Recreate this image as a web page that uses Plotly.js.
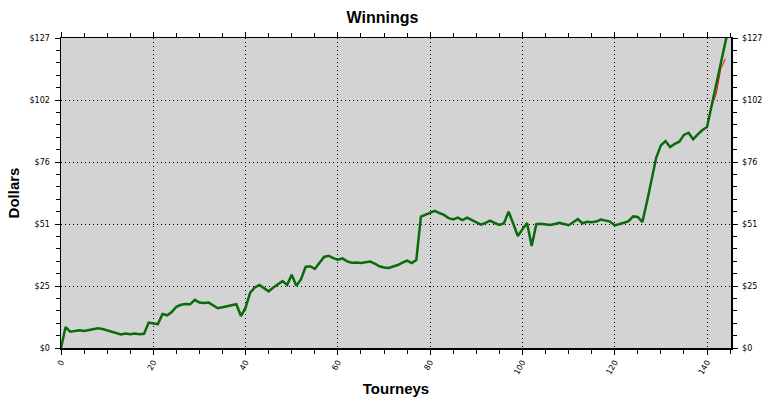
<!DOCTYPE html>
<html>
<head>
<meta charset="utf-8">
<script src="https://cdn.plot.ly/plotly-3.0.1.min.js"></script>
<style>html,body{margin:0;padding:0;background:#fff;}#chart{width:765px;height:403px;}</style>
</head>
<body>
<div id="chart"></div>
<script>
// Tourney numbers (vertices of the winnings line)
const tourneys = [0,1,2,3,4,5,6,7,8,9,10,11,12,13,14,15,16,17,18,19,20,21,22,23,24,25,26,27,28,29,30,31,32,33,34,35,36,37,38,39,40,41,42,43,44,45,46,47,48,49,50,51,52,53,54,55,56,57,58,59,60,61,62,63,64,65,66,67,68,69,70,71,72,73,74,75,76,77,78,79,80,81,82,83,84,85,86,87,88,89,90,91,92,93,94,95,96,97,98,99,100,101,102,103,104,105,106,107,108,109,110,111,112,113,114,115,116,117,118,119,120,121,122,123,124,125,126,127,128,129,130,131,132,133,134,135,136,137,138,139,140,141,142,143,144,145];
// Cumulative winnings (green line)
const winnings = [0,8.6,6.7,7.0,7.3,7.0,7.3,7.8,8.1,7.8,7.2,6.6,5.8,5.5,5.9,5.6,5.9,5.6,5.8,10.4,10.0,9.8,13.9,13.4,14.7,16.9,17.7,18.0,17.9,19.7,18.6,18.4,18.6,17.5,16.3,16.7,17.1,17.5,17.9,13.1,16.5,22.7,24.8,25.8,24.5,23.2,24.8,26.2,27.4,25.8,30.0,25.5,28.1,33.2,33.5,32.4,35.0,37.3,37.8,36.8,36.2,36.7,35.5,34.9,35.0,34.8,35.1,35.4,34.6,33.5,33.0,32.8,33.4,34.0,35.0,35.8,34.8,36.0,53.8,54.6,55.5,56.2,55.3,54.5,53.2,52.7,53.4,52.4,53.4,52.5,51.7,50.5,51.3,52.2,51.2,50.4,51.1,55.8,51.0,45.9,48.6,51.2,41.8,50.7,50.9,50.7,50.4,50.8,51.3,50.8,50.3,51.5,52.8,51.1,51.7,51.5,51.8,52.6,52.3,51.8,50.2,50.6,51.3,52.0,53.9,53.7,51.6,60.0,69.0,78.0,83.0,84.8,82.3,83.6,84.5,87.3,88.2,85.5,87.5,89.3,90.5,99.5,108.5,117.5,125.5,133.0];
// Red line (diverges at the end)
const redTourneys = [138,139,140,141,142,143,144];
const redValues = [87.5,89.3,90.5,99.0,104.0,114.5,118.5];
// Axis ticks
const yTicks = [0,25.4,50.8,76.2,101.6,127];
const yTickText = ['$0','$25','$51','$76','$102','$127'];

const tickFont = {family:'DejaVu Sans, sans-serif', size:8, color:'#000'};
const titleFont = {family:'Liberation Sans, Arial, sans-serif', size:15, color:'#000', weight:'bold'};
const gridDash = '1px,3px';

const traces = [
  {x: redTourneys, y: redValues, type:'scatter', mode:'lines', line:{color:'#ff0000', width:1}, hoverinfo:'skip', showlegend:false},
  {x: tourneys, y: winnings, type:'scatter', mode:'lines', line:{color:'#0a6b0a', width:2.5}, showlegend:false},
  {x:[0], y:[0], yaxis:'y2', type:'scatter', mode:'markers', marker:{opacity:0}, hoverinfo:'skip', showlegend:false}
];

const yCommon = {
  range:[0,127], tickmode:'array', tickvals:yTicks, ticktext:yTickText,
  ticks:'outside', ticklen:5, tickwidth:1, tickcolor:'#000',
  showline:true, linecolor:'#000', linewidth:1.5, zeroline:false,
  tickfont: tickFont, fixedrange:true,
  minor:{tickmode:'linear', tick0:0, dtick:5.08, ticks:'outside', ticklen:4, tickcolor:'#000', showgrid:false}
};

const layout = {
  width:765, height:403,
  margin:{l:61, r:34, t:38, b:55},
  paper_bgcolor:'#ffffff', plot_bgcolor:'#d3d3d3',
  title:{text:'Winnings', x:0.5, xref:'container', y:0.957, yref:'container', yanchor:'middle',
         font:{family:'Liberation Sans, Arial, sans-serif', size:16, color:'#000', weight:'bold'}},
  xaxis:{
    range:[0,145.2], tickmode:'linear', tick0:0, dtick:20, tickangle:-60,
    ticks:'outside', ticklen:5, tickwidth:1, tickcolor:'#000',
    showline:true, linecolor:'#000', linewidth:1.5, mirror:'ticks', zeroline:false,
    showgrid:true, gridcolor:'#000', gridwidth:1, griddash:gridDash,
    tickfont: tickFont,
    minor:{tickmode:'linear', tick0:0, dtick:5, ticks:'outside', ticklen:4, tickcolor:'#000', showgrid:false},
    title:{text:'Tourneys', font:titleFont, standoff:8}
  },
  yaxis: Object.assign({}, yCommon, {
    side:'left', showgrid:true, gridcolor:'#000', gridwidth:1, griddash:gridDash,
    ticklabelstandoff:3,
    title:{text:'Dollars', font:titleFont, standoff:6}
  }),
  yaxis2: Object.assign({}, yCommon, {
    side:'right', overlaying:'y', anchor:'x', showgrid:false, ticklabelstandoff:3
  })
};

Plotly.newPlot('chart', traces, layout, {staticPlot:true, displayModeBar:false});
</script>
</body>
</html>
